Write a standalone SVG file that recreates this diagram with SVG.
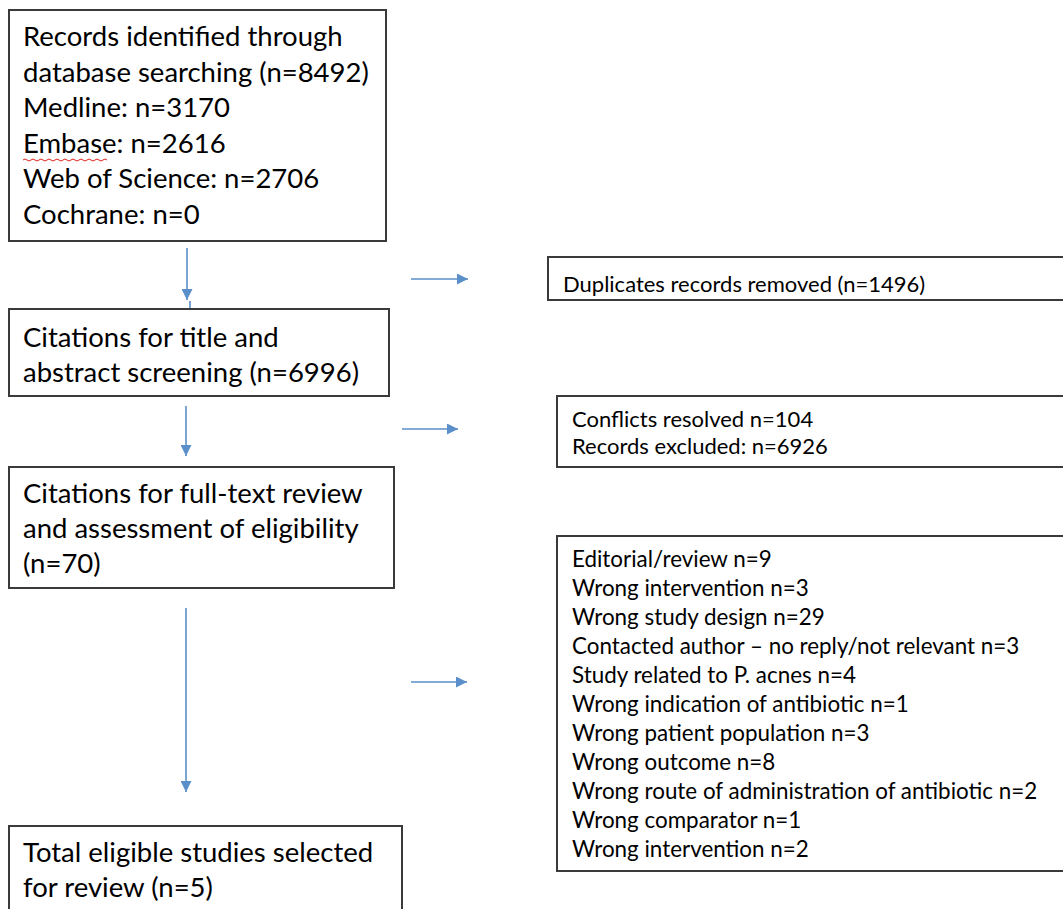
<svg xmlns="http://www.w3.org/2000/svg" width="1063" height="909" viewBox="0 0 1063 909">
<defs>
<style>
.box{fill:#fff;stroke:#3a3a3a;stroke-width:2}
.big{font-family:Lato,"Liberation Sans",sans-serif;font-size:27.5px;fill:#000}
.sm{font-family:Lato,"Liberation Sans",sans-serif;font-size:22px;fill:#000}
.sm2{font-family:Lato,"Liberation Sans",sans-serif;font-size:22.4px;fill:#000}
.conn{stroke:#5b8fc9;stroke-width:1.6;fill:none}
</style>
<marker id="ahv" viewBox="0 0 10 10" refX="10" refY="5" markerWidth="11" markerHeight="11" markerUnits="userSpaceOnUse" orient="auto">
<path d="M0,0 L10,5 L0,10 z" fill="#5b8fc9"/>
</marker>
</defs>
<rect width="1063" height="909" fill="#fff"/>
<g id="connectors">
<line class="conn" x1="187" y1="248" x2="187" y2="300" marker-end="url(#ahv)"/>
<line class="conn" x1="190" y1="301" x2="190" y2="309"/>
<line class="conn" x1="411" y1="279" x2="468" y2="279" marker-end="url(#ahv)"/>
<line class="conn" x1="186" y1="406" x2="186" y2="456" marker-end="url(#ahv)"/>
<line class="conn" x1="402" y1="429" x2="458" y2="429" marker-end="url(#ahv)"/>
<line class="conn" x1="186" y1="608" x2="186" y2="792" marker-end="url(#ahv)"/>
<line class="conn" x1="411" y1="682" x2="467" y2="682" marker-end="url(#ahv)"/>
</g>
<g id="n1">
<rect class="box" x="9" y="10" width="377" height="231"/>
<text class="big" x="23" y="46">Records identified through</text>
<text class="big" x="23" y="81.5">database searching (n=8492)</text>
<text class="big" x="23" y="117">Medline: n=3170</text>
<text class="big" x="23" y="152.5">Embase: n=2616</text>
<text class="big" x="23" y="188">Web of Science: n=2706</text>
<text class="big" x="23" y="223.5">Cochrane: n=0</text>
<path d="M23,160 q2,-2 4,0 t4,0 t4,0 t4,0 t4,0 t4,0 t4,0 t4,0 t4,0 t4,0 t4,0 t4,0 t4,0 t4,0 t4,0 t4,0 t4,0 t4,0 t4,0 t4,0 t4,0" fill="none" stroke="#e0201a" stroke-width="1"/>
</g>
<g id="n2">
<rect class="box" x="9" y="309" width="380" height="87"/>
<text class="big" x="23" y="347">Citations for title and</text>
<text class="big" x="23" y="382">abstract screening (n=6996)</text>
</g>
<g id="n3">
<rect class="box" x="9" y="467" width="385" height="121"/>
<text class="big" x="23" y="503">Citations for full-text review</text>
<text class="big" x="23" y="538">and assessment of eligibility</text>
<text class="big" x="23" y="573">(n=70)</text>
</g>
<g id="n4">
<rect class="box" x="9" y="826" width="393" height="100"/>
<text class="big" x="23" y="862">Total eligible studies selected</text>
<text class="big" x="23" y="897">for review (n=5)</text>
</g>
<g id="n5">
<rect class="box" x="548" y="257" width="530" height="43"/>
<text class="sm" x="563" y="292">Duplicates records removed (n=1496)</text>
</g>
<g id="n6">
<rect class="box" x="557" y="396" width="520" height="71"/>
<text class="sm" x="572" y="427">Conflicts resolved n=104</text>
<text class="sm" x="572" y="454">Records excluded: n=6926</text>
</g>
<g id="n7">
<rect class="box" x="557" y="536" width="520" height="335"/>
<text class="sm2" x="572" y="567">Editorial/review n=9</text>
<text class="sm2" x="572" y="596">Wrong intervention n=3</text>
<text class="sm2" x="572" y="625">Wrong study design n=29</text>
<text class="sm2" x="572" y="654">Contacted author – no reply/not relevant n=3</text>
<text class="sm2" x="572" y="683">Study related to P. acnes n=4</text>
<text class="sm2" x="572" y="712">Wrong indication of antibiotic n=1</text>
<text class="sm2" x="572" y="741">Wrong patient population n=3</text>
<text class="sm2" x="572" y="770">Wrong outcome n=8</text>
<text class="sm2" x="572" y="799">Wrong route of administration of antibiotic n=2</text>
<text class="sm2" x="572" y="828">Wrong comparator n=1</text>
<text class="sm2" x="572" y="857">Wrong intervention n=2</text>
</g>
</svg>
